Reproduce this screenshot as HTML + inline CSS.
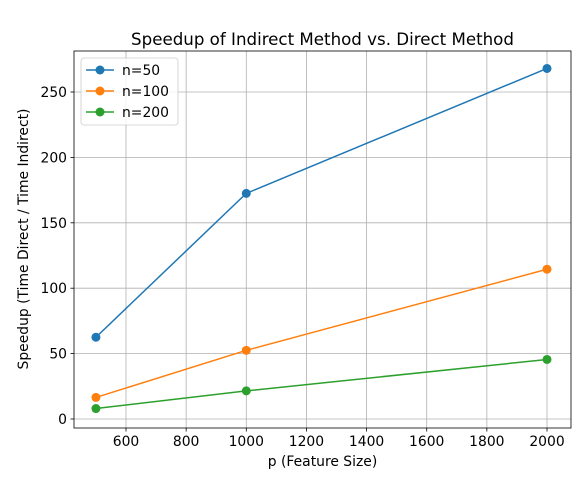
<!DOCTYPE html>
<html><head><meta charset="utf-8"><style>
body{margin:0;background:#fff;font-family:"Liberation Sans","DejaVu Sans",sans-serif;}
svg text{font-family:"DejaVu Sans","Liberation Sans",sans-serif;}
</style></head><body>
<svg id="chart" width="585" height="472" xmlns="http://www.w3.org/2000/svg">
<rect width="585" height="472" fill="#fff"/>
<g id="grid"></g>
<g id="series"></g>
<rect x="74" y="51" width="497" height="377" fill="none" stroke="#000" stroke-width="0.8"/>
<g id="ticks"></g>
<text x="322.5" y="45" text-anchor="middle" font-size="16.67">Speedup of Indirect Method vs. Direct Method</text>
<text x="322.5" y="466" text-anchor="middle" font-size="13.9">p (Feature Size)</text>
<text transform="translate(28,239) rotate(-90)" text-anchor="middle" font-size="13.9">Speedup (Time Direct / Time Indirect)</text>
<g id="legend"></g>
</svg>
<script>
const xValues=[500,1000,2000];
const seriesNames=["n=50","n=100","n=200"];
const seriesN50=[62.5,172.5,268];
const seriesN100=[16.5,52.5,114.5];
const seriesN200=[8,21.5,45.5];
const xTicks=[600,800,1000,1200,1400,1600,1800,2000];
const yTicks=[0,50,100,150,200,250];
const colors=["#1f77b4","#ff7f0e","#2ca02c"];
const NS="http://www.w3.org/2000/svg";
function sx(v){return 126+(v-600)*(547-126)/1400;}
function sy(v){return 419-v*(419-92)/250;}
function mk(tag,attrs,parent){const e=document.createElementNS(NS,tag);for(const k in attrs)e.setAttribute(k,attrs[k]);parent.appendChild(e);return e;}
const grid=document.getElementById('grid'),ticks=document.getElementById('ticks'),ser=document.getElementById('series'),leg=document.getElementById('legend');
xTicks.forEach(t=>{const x=sx(t);
 const g=mk('line',{x1:x,x2:x,y1:51,y2:428,stroke:'#b0b0b0','stroke-width':0.8},grid);
 
 
 mk('line',{x1:x,x2:x,y1:428,y2:431.5,stroke:'#000','stroke-width':0.8},ticks);
 const tx=mk('text',{x:x,y:446,'text-anchor':'middle','font-size':13.9},ticks);tx.textContent=t;
 
 
});
yTicks.forEach(t=>{const y=sy(t);
 const g=mk('line',{x1:74,x2:571,y1:y,y2:y,stroke:'#b0b0b0','stroke-width':0.8},grid);
 
 
 mk('line',{x1:70.5,x2:74,y1:y,y2:y,stroke:'#000','stroke-width':0.8},ticks);
 const tx=mk('text',{x:67,y:y+5,'text-anchor':'end','font-size':13.9},ticks);tx.textContent=t;
 
 
});
[seriesN50,seriesN100,seriesN200].forEach((s,i)=>{
 const pts=s.map((v,j)=>sx(xValues[j])+','+sy(v)).join(' ');
 const pl=mk('polyline',{points:pts,fill:'none',stroke:colors[i],'stroke-width':1.5},ser);
 
 
 s.forEach((v,j)=>{const c=mk('circle',{cx:sx(xValues[j]),cy:sy(v),r:4.5,fill:colors[i]},ser);
  
  });
});
const box=mk('rect',{x:81,y:58,width:97,height:67,rx:3,fill:'#fff','fill-opacity':0.8,stroke:'#ccc','stroke-width':0.8},leg);


seriesNames.forEach((n,i)=>{const y=70+i*21;
 mk('line',{x1:86,x2:114,y1:y,y2:y,stroke:colors[i],'stroke-width':1.5},leg);
 mk('circle',{cx:100,cy:y,r:4.5,fill:colors[i]},leg);
 const t=mk('text',{x:122,y:y+5,'font-size':13.9},leg);t.textContent=n;
 
 
});
</script>
</body></html>
